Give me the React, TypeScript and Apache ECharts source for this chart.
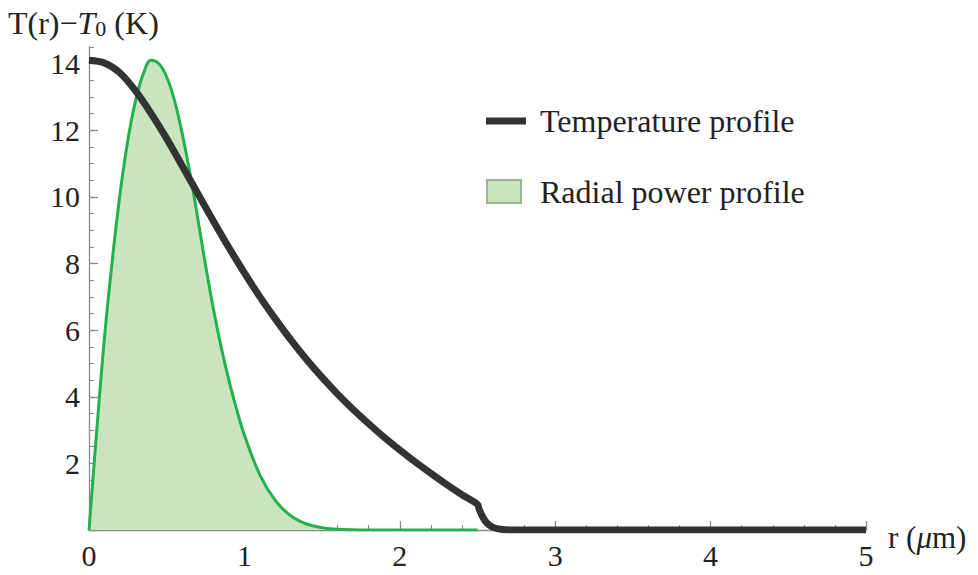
import React, { useEffect, useRef } from "react";
import * as echarts from "echarts";

// Temperature profile T(r) - T0 (K)
const rTemp = [0, 0.1, 0.2, 0.3, 0.4, 0.5, 0.6, 0.7, 0.8, 0.9, 1.0, 1.1, 1.2, 1.3, 1.4, 1.5, 1.6, 1.7, 1.8, 1.9, 2.0, 2.1, 2.2, 2.3, 2.4, 2.5, 2.51, 2.53, 2.56, 2.6, 2.65, 2.72, 3.0, 4.0, 5.0];
const tempVals = [14.1, 14.02, 13.72, 13.18, 12.5, 11.75, 10.93, 10.1, 9.28, 8.48, 7.72, 7.0, 6.33, 5.7, 5.12, 4.58, 4.08, 3.62, 3.19, 2.78, 2.4, 2.04, 1.7, 1.37, 1.06, 0.77, 0.64, 0.42, 0.21, 0.08, 0.02, 0.0, 0.0, 0.0, 0.0];

// Radial power profile (scaled)
const rPower = [0, 0.05, 0.1, 0.15, 0.2, 0.25, 0.3, 0.35, 0.4, 0.45, 0.5, 0.55, 0.6, 0.65, 0.7, 0.75, 0.8, 0.85, 0.9, 0.95, 1.0, 1.1, 1.2, 1.3, 1.4, 1.5, 1.6, 1.8, 2.0, 2.5];
const powerVals = [0, 3.0, 5.8, 8.1, 10.1, 11.7, 12.9, 13.7, 14.1, 14.0, 13.6, 12.9, 11.9, 10.7, 9.35, 7.95, 6.65, 5.5, 4.5, 3.62, 2.85, 1.65, 0.88, 0.42, 0.18, 0.07, 0.02, 0, 0, 0];

const xTicks = [0, 1, 2, 3, 4, 5];
const yLabelValues = [2, 4, 6, 8, 10, 12, 14];
const yMajorTicks = [0, 2, 4, 6, 8, 10, 12, 14];

const legendNames = ["Temperature profile", "Radial power profile"];

const FONT = "'Liberation Serif', 'Times New Roman', serif";
const TEXT = "#222222";
const AXIS = "#8a8a8a";

export default function App() {
  const ref = useRef<HTMLDivElement>(null);
  useEffect(() => {
    document.body.style.margin = "0";
    if (!ref.current) return;
    const chart = echarts.init(ref.current, null, { renderer: "svg" });
    const tempData = rTemp.map((r, i) => [r, tempVals[i]]);
    const powerData = rPower.map((r, i) => [r, powerVals[i]]);
    chart.setOption({
      animation: false,
      title: {
        text: "T(r)\u2212{i|T}{s|0} (K)",
        left: 3,
        top: 1,
        textStyle: {
          fontFamily: FONT,
          fontSize: 32,
          fontWeight: "normal",
          color: TEXT,
          rich: {
            i: { fontFamily: FONT, fontSize: 32, fontStyle: "italic", color: TEXT },
            s: { fontFamily: FONT, fontSize: 22, color: TEXT, padding: [11, 0, 0, 0] },
          },
        },
      },
      grid: { left: 89, right: 112, top: 47, bottom: 45 },
      xAxis: {
        type: "value",
        min: 0,
        max: 5,
        interval: 1,
        name: "r ({i|\u03bc}m)",
        nameLocation: "end",
        nameGap: 22,
        nameTextStyle: {
          fontFamily: FONT,
          fontSize: 31,
          color: TEXT,
          padding: [14, 0, 0, 0],
          rich: { i: { fontFamily: FONT, fontSize: 31, fontStyle: "italic", color: TEXT } },
        },
        axisLine: { show: true, onZero: true, lineStyle: { color: AXIS, width: 1.3 } },
        axisTick: { show: true, inside: true, length: 9, lineStyle: { color: AXIS, width: 1.3 } },
        minorTick: { show: true, splitNumber: 5, length: 5, lineStyle: { color: AXIS, width: 1.1 } },
        splitLine: { show: false },
        minorSplitLine: { show: false },
        axisLabel: {
          fontFamily: FONT,
          fontSize: 30,
          color: TEXT,
          margin: 10,
          customValues: xTicks,
        },
      },
      yAxis: [
        {
          type: "value",
          min: 0,
          max: 14.5,
          interval: 0.5,
          axisLine: { show: true, lineStyle: { color: AXIS, width: 1.3 } },
          axisTick: { show: true, inside: true, length: 5, lineStyle: { color: AXIS, width: 1.1 } },
          splitLine: { show: false },
          axisLabel: {
            fontFamily: FONT,
            fontSize: 30,
            color: TEXT,
            margin: 9,
            formatter: (v: number) => (yLabelValues.indexOf(v) >= 0 ? String(v) : ""),
          },
        },
        {
          type: "value",
          min: 0,
          max: 14.5,
          interval: 2,
          position: "left",
          axisLine: { show: false },
          axisTick: { show: true, inside: true, length: 9, customValues: yMajorTicks, lineStyle: { color: AXIS, width: 1.3 } },
          splitLine: { show: false },
          axisLabel: { show: false },
        },
      ],
      series: [
        {
          name: legendNames[1],
          type: "line",
          data: powerData,
          smooth: 0.4,
          symbol: "none",
          lineStyle: { color: "#22b24c", width: 3 },
          areaStyle: { color: "#c9e4bf", opacity: 1 },
          z: 2,
        },
        {
          name: legendNames[0],
          type: "line",
          data: tempData,
          smooth: 0.3,
          symbol: "none",
          lineStyle: { color: "#333333", width: 7 },
          z: 3,
        },
      ],
      graphic: [
        {
          type: "line",
          shape: { x1: 486, y1: 121, x2: 526, y2: 121 },
          style: { stroke: "#333333", lineWidth: 7 },
        },
        {
          type: "text",
          x: 540,
          y: 121,
          style: { text: legendNames[0], fontFamily: FONT, fontSize: 32, fill: TEXT, verticalAlign: "middle" },
        },
        {
          type: "rect",
          shape: { x: 487, y: 180, width: 34, height: 23 },
          style: { fill: "#c9e4bf", stroke: "#9db494", lineWidth: 2 },
        },
        {
          type: "text",
          x: 540,
          y: 192,
          style: { text: legendNames[1], fontFamily: FONT, fontSize: 32, fill: TEXT, verticalAlign: "middle" },
        },
      ],
    });
    return () => chart.dispose();
  }, []);
  return <div ref={ref} style={{ width: 978, height: 575 }} />;
}
